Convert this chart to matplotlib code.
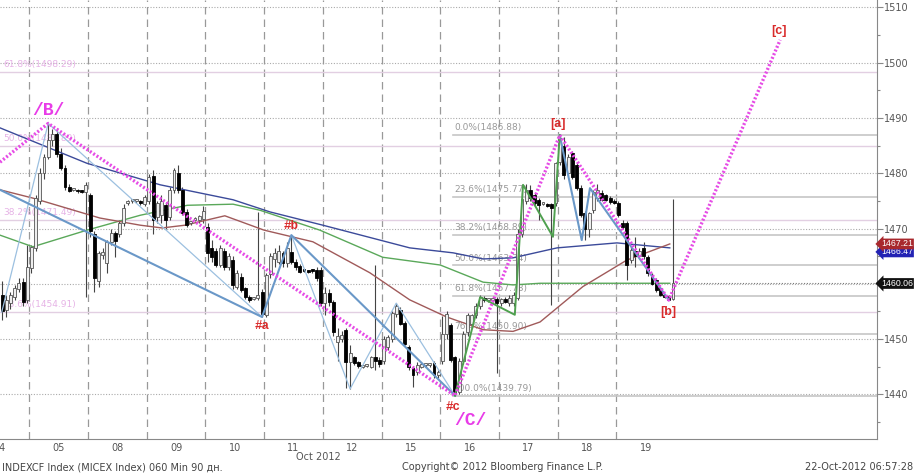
import matplotlib
matplotlib.use("Agg")
import matplotlib.pyplot as plt
import matplotlib.transforms as mtransforms

# ---------------- data ----------------
day_labels = ['04', '05', '08', '09', '10', '11', '12', '15', '16', '17', '18', '19']
bars_per_day = 14          # hourly bars per session
first_slot = 7             # first visible hourly slot of 04 Oct

opens = [
    1458.0, 1455.3, 1456.5, 1457.6, 1459.0, 1460.3, 1457.0,
    1462.8, 1466.5, 1475.0, 1480.0, 1483.0, 1486.0, 1487.0, 1483.5, 1481.0, 1477.5, 1477.0, 1476.9, 1476.7, 1476.6,
    1476.0, 1469.0, 1460.5, 1465.2, 1463.7, 1467.5, 1469.2, 1469.0, 1471.0, 1474.6, 1474.9, 1475.0, 1475.0, 1474.5,
    1475.0, 1479.5, 1472.0, 1472.5, 1474.2, 1472.0, 1477.0, 1480.0, 1477.0, 1473.0, 1471.0, 1471.5, 1471.5, 1471.8,
    1470.2, 1466.5, 1466.0, 1463.4, 1466.0, 1463.0, 1464.3, 1459.5, 1461.3, 1459.2, 1457.6, 1457.3, 1457.4, 1458.5,
    1454.3, 1461.7, 1464.5, 1464.0, 1465.5, 1463.7, 1465.8, 1464.0, 1463.3, 1462.4, 1462.2, 1462.4, 1462.5, 1462.5,
    1456.5, 1458.3, 1456.7, 1449.5, 1450.0, 1451.7, 1445.8, 1446.7, 1445.8, 1445.0, 1445.2, 1445.0, 1446.7, 1446.3,
    1446.0, 1448.5, 1450.0, 1454.5, 1455.3, 1452.9, 1448.6, 1444.8, 1444.0, 1445.0, 1445.3, 1445.3, 1445.6, 1443.5,
    1446.0, 1451.0, 1452.5, 1446.8, 1440.5, 1446.0, 1451.2, 1452.7, 1454.3, 1456.0, 1457.4, 1457.0, 1457.0, 1457.2,
    1456.5, 1457.2, 1456.6, 1456.5, 1457.5, 1469.0, 1475.0, 1477.0, 1476.0, 1475.2, 1474.5, 1474.4, 1474.4, 1474.6,
    1482.0, 1485.0, 1480.0, 1483.6, 1481.5, 1477.3, 1472.8, 1470.0, 1473.3, 1475.5, 1476.5, 1476.0, 1475.5, 1475.0,
    1474.6, 1471.0, 1471.0, 1464.3, 1466.0, 1465.0, 1466.5, 1464.8, 1461.6, 1460.7, 1459.2, 1457.8, 1457.8, 1457.3,
]
highs = [
    1460.5, 1458.0, 1458.5, 1459.8, 1461.0, 1461.0, 1467.0,
    1467.0, 1476.0, 1481.0, 1483.5, 1489.0, 1488.0, 1488.2, 1484.5, 1481.5, 1478.0, 1477.3, 1477.1, 1477.0, 1478.5,
    1476.5, 1469.5, 1466.0, 1466.5, 1468.0, 1470.0, 1469.5, 1471.5, 1474.5, 1475.2, 1475.3, 1475.3, 1475.2, 1476.0,
    1479.8, 1480.5, 1475.0, 1476.0, 1474.8, 1477.5, 1481.0, 1481.5, 1477.5, 1473.5, 1471.3, 1472.0, 1472.5, 1474.0,
    1471.0, 1468.0, 1466.5, 1467.0, 1466.5, 1465.5, 1465.0, 1462.5, 1462.0, 1459.5, 1458.0, 1457.6, 1473.0, 1459.0,
    1462.0, 1465.5, 1466.5, 1467.0, 1466.0, 1467.5, 1468.8, 1464.5, 1463.5, 1462.7, 1462.5, 1462.7, 1463.0, 1463.0,
    1459.5, 1459.0, 1457.0, 1452.0, 1451.5, 1452.0, 1449.0, 1447.0, 1446.0, 1445.3, 1445.5, 1447.0, 1463.4, 1446.8,
    1450.5, 1450.8, 1455.0, 1456.5, 1455.8, 1453.3, 1449.0, 1445.2, 1445.8, 1445.8, 1445.6, 1445.6, 1446.0, 1444.5,
    1454.2, 1455.0, 1453.0, 1447.0, 1446.5, 1451.5, 1454.8, 1454.6, 1456.5, 1458.0, 1457.8, 1457.3, 1457.4, 1457.6,
    1457.5, 1457.6, 1458.0, 1458.5, 1470.0, 1476.4, 1478.0, 1477.8, 1476.5, 1475.5, 1474.8, 1474.6, 1474.6, 1482.0,
    1486.88, 1486.5, 1483.5, 1484.0, 1482.0, 1477.8, 1473.2, 1473.0, 1477.0, 1478.0, 1477.0, 1476.3, 1475.8, 1475.3,
    1475.0, 1471.5, 1471.3, 1466.8, 1468.5, 1466.5, 1467.5, 1465.2, 1462.0, 1461.0, 1459.5, 1458.0, 1458.0, 1475.3,
]
lows = [
    1453.5, 1454.0, 1455.5, 1457.0, 1458.5, 1456.0, 1456.5,
    1462.0, 1466.0, 1474.5, 1479.0, 1482.5, 1485.0, 1483.0, 1480.5, 1477.0, 1476.6, 1476.7, 1476.5, 1476.4, 1457.6,
    1468.5, 1458.5, 1459.5, 1464.5, 1462.0, 1467.0, 1464.8, 1468.5, 1470.5, 1474.3, 1474.6, 1474.7, 1474.3, 1474.0,
    1474.5, 1469.0, 1471.0, 1471.0, 1470.0, 1471.5, 1476.5, 1476.5, 1472.5, 1470.3, 1470.7, 1471.3, 1471.0, 1471.0,
    1464.0, 1464.0, 1463.0, 1463.0, 1462.5, 1462.5, 1459.0, 1459.0, 1458.5, 1457.3, 1456.8, 1457.0, 1457.0, 1454.0,
    1454.0, 1461.0, 1463.0, 1463.5, 1463.0, 1463.0, 1463.5, 1462.5, 1462.0, 1462.1, 1461.9, 1462.0, 1460.5, 1456.0,
    1454.3, 1456.0, 1450.5, 1446.0, 1449.5, 1441.2, 1441.0, 1445.3, 1444.8, 1444.8, 1445.0, 1444.8, 1444.5, 1445.0,
    1445.5, 1448.0, 1449.5, 1454.0, 1452.5, 1449.0, 1444.5, 1441.4, 1443.5, 1444.7, 1445.0, 1445.0, 1443.0, 1443.0,
    1445.5, 1450.0, 1445.8, 1439.8, 1440.0, 1445.5, 1450.5, 1452.0, 1453.8, 1455.5, 1456.7, 1456.7, 1456.7, 1443.8,
    1456.0, 1456.5, 1456.0, 1456.0, 1457.0, 1468.5, 1474.5, 1475.0, 1474.0, 1471.5, 1474.2, 1473.8, 1456.2, 1474.0,
    1481.5, 1479.0, 1479.5, 1479.0, 1477.0, 1472.0, 1468.0, 1468.5, 1472.8, 1475.0, 1475.0, 1475.0, 1474.5, 1474.4,
    1472.0, 1470.0, 1460.7, 1463.8, 1463.0, 1464.5, 1464.5, 1461.5, 1459.7, 1458.5, 1457.8, 1457.4, 1457.07, 1457.0,
]
closes = [
    1455.0, 1457.0, 1458.0, 1459.2, 1460.2, 1456.7, 1463.0,
    1466.6, 1475.5, 1480.0, 1483.0, 1486.0, 1487.0, 1483.5, 1481.0, 1477.5, 1476.8, 1477.0, 1476.7, 1476.6, 1477.8,
    1469.5, 1461.0, 1465.5, 1465.8, 1467.5, 1469.2, 1467.8, 1471.0, 1473.7, 1474.9, 1475.0, 1475.1, 1474.6, 1475.7,
    1479.3, 1471.5, 1474.6, 1475.0, 1471.5, 1477.0, 1480.6, 1477.0, 1472.8, 1470.6, 1471.0, 1471.8, 1472.2, 1473.2,
    1465.5, 1464.8, 1463.4, 1466.5, 1463.0, 1465.0, 1459.8, 1462.0, 1458.9, 1457.6, 1457.0, 1457.4, 1458.0, 1454.5,
    1461.6, 1465.0, 1465.5, 1466.0, 1463.8, 1466.5, 1464.0, 1463.0, 1462.2, 1462.3, 1462.1, 1462.3, 1461.0, 1456.5,
    1458.4, 1456.7, 1451.3, 1450.5, 1450.8, 1445.8, 1447.5, 1445.7, 1445.2, 1445.0, 1445.2, 1446.7, 1446.0, 1445.5,
    1450.0, 1450.3, 1454.8, 1456.0, 1452.8, 1449.2, 1445.0, 1443.5, 1445.3, 1445.5, 1445.3, 1445.3, 1443.5, 1444.0,
    1451.0, 1454.5, 1446.2, 1440.3, 1446.0, 1451.0, 1454.4, 1454.3, 1456.0, 1457.6, 1457.0, 1457.0, 1457.1, 1456.6,
    1457.2, 1456.8, 1457.5, 1458.0, 1469.0, 1475.3, 1477.0, 1475.5, 1474.6, 1474.3, 1474.5, 1474.0, 1473.7, 1481.8,
    1486.4, 1479.7, 1483.0, 1479.3, 1477.3, 1472.4, 1470.0, 1472.8, 1476.6, 1477.0, 1475.2, 1475.2, 1474.8, 1474.6,
    1472.4, 1470.3, 1463.4, 1466.2, 1465.0, 1466.0, 1465.0, 1461.9, 1460.0, 1458.9, 1458.0, 1457.6, 1457.1, 1460.06,
]

# moving averages (time in trading days from 04 Oct, price)
ma_blue_t = [0.0, 1.48, 2.73, 3.97, 4.60, 5.50, 6.98, 7.72, 8.23, 8.74, 9.49, 10.51, 11.41]
ma_blue_p = [1488.2, 1481.8, 1477.9, 1475.2, 1473.0, 1470.6, 1466.5, 1465.6, 1464.5, 1464.7, 1466.5, 1467.4, 1466.5]
ma_green_t = [0.0, 0.56, 1.48, 2.39, 3.19, 3.97, 4.43, 5.45, 6.52, 7.50, 8.23, 8.74, 9.20, 11.41]
ma_green_p = [1468.8, 1466.7, 1469.7, 1472.4, 1474.2, 1474.4, 1473.3, 1469.7, 1464.8, 1463.4, 1460.3, 1459.8, 1460.1, 1460.1]
ma_brown_t = [0.0, 0.56, 1.70, 2.39, 2.76, 3.15, 3.83, 4.50, 5.33, 6.30, 6.98, 7.61, 8.23, 8.74, 9.20, 9.93, 10.68, 11.41]
ma_brown_p = [1477.0, 1475.5, 1471.9, 1470.6, 1470.1, 1470.6, 1472.3, 1469.7, 1467.6, 1462.0, 1457.1, 1454.0, 1451.7,
              1451.4, 1453.1, 1459.5, 1464.3, 1467.21]

# Elliott wave count
wave_t = [0.0, 0.821, 7.75, 9.536, 11.393, 13.29]
wave_p = [1482.0, 1489.0, 1439.79, 1486.88, 1457.07, 1504.1]
wave_names = [None, '/B/', '/C/', '[a]', '[b]', '[c]']
sub_t = [4.464, 4.964, 7.75]
sub_p = [1454.0, 1468.8, 1439.79]
sub_names = ['#a', '#b', '#c']

steel_left_t = [0.0, 4.464, 4.964, 7.75]
steel_left_p = [1477.0, 1454.0, 1468.8, 1439.79]
light_a_t = [0.03, 0.821, 4.464]
light_a_p = [1454.9, 1489.0, 1454.0]
light_b_t = [4.964, 5.964, 6.75, 7.75]
light_b_p = [1468.8, 1441.0, 1456.5, 1439.79]
green_zz_t = [7.75, 8.18, 8.77, 8.91, 9.42, 9.536]
green_zz_p = [1439.79, 1457.6, 1454.4, 1477.9, 1468.5, 1486.88]
steel_right_t = [9.536, 9.91, 10.05, 11.393]
steel_right_p = [1486.88, 1467.9, 1477.3, 1457.07]

fib_left_levels = ['23.6%', '38.2%', '50.0%', '61.8%']
fib_left_prices = [1454.91, 1471.49, 1484.89, 1498.29]
fib_right_levels = ['0.0%', '23.6%', '38.2%', '50.0%', '61.8%', '76.4%', '100.0%']
fib_right_prices = [1486.88, 1475.77, 1468.89, 1463.34, 1457.78, 1450.90, 1439.79]
fib_right_start = 7.72

last_price = 1460.06
ma_brown_last = 1467.21
ma_blue_last = 1466.47

# ---------------- figure ----------------
W, H = 915, 474
fig = plt.figure(figsize=(W / 100, H / 100), dpi=100)
ax = fig.add_axes([0, 35 / H, 877 / W, 1 - 35 / H])
ax.set_xlim(0, 14.94)
ax.set_ylim(1431.94, 1511.32)

grey_txt = '#555555'
# grid
for v in range(1440, 1511, 10):
    ax.axhline(v, color='#aaaaaa', lw=0.8, ls=(0, (1, 1.5)), zorder=0)
for k in range(len(day_labels) - 1):
    ax.axvline(k + 0.5, color='#999999', lw=0.9, ls=(0, (6, 4)), zorder=0)

# fib lines
for lev, p in zip(fib_left_levels, fib_left_prices):
    ax.axhline(p, color='#e2cfe2', lw=1.0, zorder=0.5)
    ax.text(0.05, p + 0.6, f'{lev}({p:.2f})', color='#e6b3e6', fontsize=6.5, va='bottom', ha='left', zorder=0.6)
for lev, p in zip(fib_right_levels, fib_right_prices):
    ax.plot([fib_right_start, 14.94], [p, p], color='#c6c6c6', lw=1.2, zorder=0.5)
    ax.text(fib_right_start + 0.02, p + 0.5, f'{lev}({p:.2f})', color='#999999', fontsize=6.5,
            va='bottom', ha='left', zorder=0.6)

# candles
xs = []
for k in range(len(day_labels)):
    start = first_slot if k == 0 else 0
    for j in range(start, bars_per_day):
        xs.append(k - 0.5 + (j + 0.5) / bars_per_day)

ax.vlines(xs, lows, highs, color='#444444', lw=0.8, zorder=2)
for x, o, c in zip(xs, opens, closes):
    up = c >= o
    h = max(abs(c - o), 0.35)
    ax.bar(x, h, bottom=min(o, c), width=0.05,
           color='#eeeeee' if up else '#000000', edgecolor='#555555' if up else '#000000',
           lw=0.6, zorder=3)

# moving averages
ax.plot(ma_blue_t, ma_blue_p, color='#3b4a9a', lw=1.0, zorder=2.5)
ax.plot(ma_green_t, ma_green_p, color='#5aa85a', lw=1.0, zorder=2.5)
ax.plot(ma_brown_t, ma_brown_p, color='#a05a5a', lw=1.0, zorder=2.5)

# wave lines
ax.plot(light_a_t, light_a_p, color='#9cc0e0', lw=0.9, zorder=4)
ax.plot(light_b_t, light_b_p, color='#9cc0e0', lw=0.9, zorder=4)
ax.plot(steel_left_t, steel_left_p, color='#6a98c8', lw=1.5, zorder=4)
ax.plot(steel_right_t, steel_right_p, color='#6a98c8', lw=1.5, zorder=4)
ax.plot(green_zz_t, green_zz_p, color='#4fa04f', lw=1.4, zorder=4)
ax.plot(wave_t, wave_p, color='#e64ce6', lw=2.4, ls=(0, (0.6, 0.6)), zorder=5)

# wave labels
mag = '#e83ce8'
red = '#d92b2b'
offs = {'/B/': (0, 13), '/C/': (15, -25), '[a]': (-2, 11), '[b]': (0, -12), '[c]': (-1, 9)}
for t, p, name in zip(wave_t, wave_p, wave_names):
    if name is None:
        continue
    if name.startswith('/'):
        ax.annotate(name, (t, p), xytext=offs[name], textcoords='offset pixels', ha='center', va='center',
                    color=mag, fontsize=13, fontweight='bold', family='Liberation Mono', zorder=6)
    else:
        ax.annotate(name, (t, p), xytext=offs[name], textcoords='offset pixels', ha='center', va='center',
                    color=red, fontsize=9, fontweight='bold', family='Liberation Sans', zorder=6)
sub_offs = {'#a': (0, -9), '#b': (0, 9), '#c': (-2, -11)}
for t, p, name in zip(sub_t, sub_p, sub_names):
    ax.annotate(name, (t, p), xytext=sub_offs[name], textcoords='offset pixels', ha='center', va='center',
                color=red, fontsize=9, fontweight='bold', family='Liberation Mono', zorder=6)

# last price line
ax.plot([xs[-1], 14.94], [last_price, last_price], color='#777777', lw=0.8, ls=(0, (1, 1.5)), zorder=1)

# axes styling
for s in ['top', 'left']:
    ax.spines[s].set_visible(False)
ax.spines['right'].set_color('#888888')
ax.spines['bottom'].set_color('#888888')
ax.yaxis.tick_right()
ax.set_yticks(range(1440, 1511, 10))
ax.set_yticks(range(1435, 1511, 10), minor=True)
ax.tick_params(axis='y', which='major', direction='out', length=4, width=0.8, color='#888888',
               labelsize=7, labelcolor=grey_txt, pad=1)
ax.tick_params(axis='y', which='minor', direction='out', length=2, width=0.8, color='#888888')
ax.set_xticks(range(len(day_labels)))
ax.set_xticklabels(day_labels)
ax.tick_params(axis='x', length=0, labelsize=7, labelcolor=grey_txt, pad=3)

# price boxes on the right axis (right-aligned to the figure edge)
trans = mtransforms.blended_transform_factory(fig.transFigure, ax.transData)
box_kw = dict(transform=trans, va='center', ha='right', color='white', fontsize=6.3,
              family='Liberation Sans', clip_on=False)
x_box = (W - 2) / W
fig.text(x_box, ma_blue_last - 0.7, f'{ma_blue_last:.2f}', zorder=7,
         bbox=dict(boxstyle='larrow,pad=0.1', fc='#2323b4', ec='none'), **box_kw)
fig.text(x_box, ma_brown_last, f'{ma_brown_last:.2f}', zorder=8,
         bbox=dict(boxstyle='larrow,pad=0.1', fc='#a8282d', ec='none'), **box_kw)
fig.text(x_box, last_price, f'{last_price:.2f}', zorder=8,
         bbox=dict(boxstyle='larrow,pad=0.1', fc='#111111', ec='none'), **box_kw)

# footer texts
fig.text(318 / W, 1 - 457 / H, 'Oct 2012', ha='center', va='center', fontsize=7, color=grey_txt)
fig.text(2 / W, 1 - 467 / H, 'INDEXCF Index (MICEX Index) 060 Min 90 дн.', ha='left', va='center',
         fontsize=7, color='#444444')
fig.text(503 / W, 1 - 467 / H, 'Copyright© 2012 Bloomberg Finance L.P.', ha='center', va='center',
         fontsize=7, color='#444444')
fig.text(913 / W, 1 - 467 / H, '22-Oct-2012 06:57:28', ha='right', va='center', fontsize=7, color='#444444')

fig.savefig('out.png', dpi=100)
